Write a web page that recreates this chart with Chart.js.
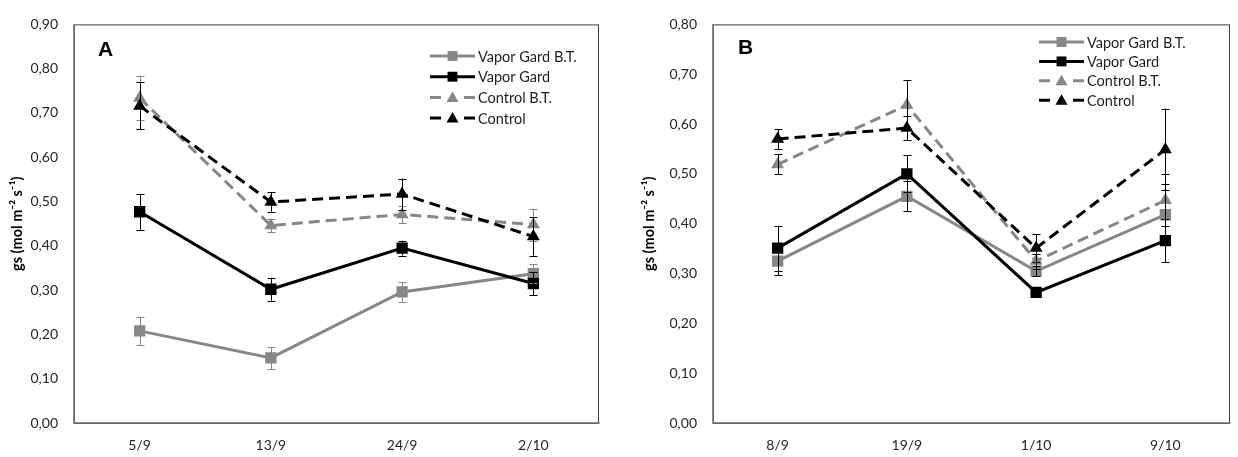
<!DOCTYPE html>
<html lang="pt">
<head>
<meta charset="UTF-8">
<title>gs</title>
<script src="https://cdn.jsdelivr.net/npm/chart.js@4.4.1/dist/chart.umd.min.js"></script>
<style>
  body { margin: 0; background: #fff; width: 1238px; height: 457px; overflow: hidden; position: relative; }
  canvas { position: absolute; top: 0; }
</style>
</head>
<body>
<canvas id="chartA" width="615" height="457" style="left:0"></canvas>
<canvas id="chartB" width="618" height="457" style="left:620px"></canvas>
<script>
// series names (same in both panels)
const seriesNames = ['Vapor Gard B.T.', 'Vapor Gard', 'Control B.T.', 'Control'];

// panel A
const datesA = ['5/9', '13/9', '24/9', '2/10'];
const vgbtA = [0.208, 0.147, 0.296, 0.337];
const vgbtErrA = [0.032, 0.025, 0.022, 0.022];
const vgA = [0.477, 0.302, 0.395, 0.315];
const vgErrA = [0.041, 0.026, 0.017, 0.026];
const cbtA = [0.734, 0.446, 0.471, 0.448];
const cbtErrA = [0.050, 0.015, 0.020, 0.036];
const ctrlA = [0.716, 0.499, 0.517, 0.421];
const ctrlErrA = [0.053, 0.022, 0.035, 0.043];

// panel B
const datesB = ['8/9', '19/9', '1/10', '9/10'];
const vgbtB = [0.325, 0.455, 0.305, 0.418];
const vgbtErrB = [0.028, 0.030, 0.010, 0.061];
const vgB = [0.351, 0.500, 0.262, 0.366];
const vgErrB = [0.045, 0.037, 0.005, 0.043];
const cbtB = [0.519, 0.638, 0.325, 0.447];
const cbtErrB = [0.020, 0.050, 0.015, 0.052];
const ctrlB = [0.570, 0.592, 0.351, 0.549];
const ctrlErrB = [0.020, 0.025, 0.028, 0.082];

const GRAY = '#878787';
const yTitle = 'gs (mol m\u207B\u00B2 s\u207B\u00B9)';
const tickFont = { family: 'Lato', size: 14 };

function fmtTick(v) {
  return v.toFixed(2).replace('.', ',');
}

function marker(ctx, style, x, y, r) {
  ctx.beginPath();
  if (style === 'rect') {
    const s = r * Math.SQRT1_2;
    ctx.rect(x - s, y - s, 2 * s, 2 * s);
  } else {
    ctx.moveTo(x, y - r);
    ctx.lineTo(x + r * 0.866, y + r * 0.5);
    ctx.lineTo(x - r * 0.866, y + r * 0.5);
    ctx.closePath();
  }
  ctx.fill();
}

const panelDecor = {
  id: 'panelDecor',
  beforeDraw(chart) {
    const { ctx, chartArea: a } = chart;
    ctx.save();
    ctx.strokeStyle = '#404040';
    ctx.lineWidth = 1;
    ctx.strokeRect(a.left + 0.5, a.top + 0.5, a.right - a.left - 1, a.bottom - a.top);
    ctx.restore();
  },
  afterDatasetsDraw(chart, args, opts) {
    const ctx = chart.ctx;
    const ys = chart.scales.y;
    ctx.save();
    ctx.lineWidth = 1;
    chart.data.datasets.forEach((ds, i) => {
      const meta = chart.getDatasetMeta(i);
      ctx.strokeStyle = opts.errColors[i];
      meta.data.forEach((pt, j) => {
        const e = ds.errors[j];
        const yt = ys.getPixelForValue(ds.data[j] + e);
        const yb = ys.getPixelForValue(ds.data[j] - e);
        const x = Math.round(pt.x) + 0.5;
        ctx.beginPath();
        ctx.moveTo(x, yt); ctx.lineTo(x, yb);
        ctx.moveTo(x - 4, Math.round(yt) + 0.5); ctx.lineTo(x + 4, Math.round(yt) + 0.5);
        ctx.moveTo(x - 4, Math.round(yb) + 0.5); ctx.lineTo(x + 4, Math.round(yb) + 0.5);
        ctx.stroke();
      });
    });
    ctx.restore();
  },
  afterDraw(chart, args, opts) {
    const ctx = chart.ctx;
    ctx.save();
    // panel letter
    ctx.fillStyle = '#000';
    ctx.font = 'bold 21px "Liberation Sans"';
    ctx.textBaseline = 'middle';
    ctx.fillText(opts.letter, opts.letterX, opts.letterY);
    // legend: line - marker - line
    const lg = opts.legend;
    ctx.font = '14.5px Lato';
    chart.data.datasets.forEach((ds, i) => {
      const y = lg.y + i * lg.gap;
      const dashed = ds.borderDash && ds.borderDash.length;
      ctx.strokeStyle = ds.borderColor;
      ctx.lineWidth = ds.borderWidth;
      ctx.beginPath();
      if (dashed) {
        ctx.moveTo(lg.x, y); ctx.lineTo(lg.x + 11, y);
        ctx.moveTo(lg.x + lg.len - 11, y); ctx.lineTo(lg.x + lg.len, y);
      } else {
        ctx.moveTo(lg.x, y); ctx.lineTo(lg.x + lg.len, y);
      }
      ctx.stroke();
      ctx.fillStyle = ds.pointBackgroundColor;
      marker(ctx, ds.pointStyle, lg.x + lg.len / 2, y + (ds.pointStyle === 'rect' ? 0 : 1), 7);
      ctx.fillStyle = '#1f1f1f';
      ctx.fillText(ds.label, lg.x + lg.len + 3, y + 1);
    });
    ctx.restore();
  }
};

function makeDatasets(values, errs) {
  const colors = [GRAY, '#000', GRAY, '#000'];
  const dashes = [[], [], [11, 6], [11, 6]];
  const styles = ['rect', 'rect', 'triangle', 'triangle'];
  return seriesNames.map((name, i) => ({
    label: name,
    data: values[i],
    errors: errs[i],
    borderColor: colors[i],
    borderWidth: 3,
    borderDash: dashes[i],
    pointStyle: styles[i],
    pointRadius: styles[i] === 'rect' ? 8 : 7.5,
    pointBackgroundColor: colors[i],
    pointBorderWidth: 0,
    tension: 0,
    order: 4 - i
  }));
}

function makeChart(id, dates, values, errs, cfg) {
  return new Chart(document.getElementById(id), {
    type: 'line',
    data: { labels: dates, datasets: makeDatasets(values, errs) },
    plugins: [panelDecor],
    options: {
      responsive: false,
      animation: false,
      events: [],
      layout: { padding: { left: 0, top: cfg.top, right: cfg.right, bottom: 0 } },
      plugins: {
        legend: { display: false },
        tooltip: { enabled: false },
        panelDecor: {
          letter: cfg.letter, letterX: cfg.letterX, letterY: cfg.letterY,
          legend: cfg.legend, errColors: cfg.errColors
        }
      },
      scales: {
        x: {
          type: 'category',
          offset: true,
          grid: { display: false, drawTicks: false },
          border: { display: true, color: '#8c8c8c', width: 1.5 },
          ticks: { font: tickFont, color: '#262626', padding: 14, maxRotation: 0 },
          afterFit(s) { s.height = 34; }
        },
        y: {
          min: 0,
          max: cfg.ymax,
          grid: { display: false, drawTicks: false },
          border: { display: true, color: '#8c8c8c', width: 1.5 },
          ticks: { stepSize: 0.1, font: tickFont, color: '#262626', padding: 16, callback: fmtTick },
          title: {
            display: true,
            text: yTitle,
            font: { family: 'Lato', size: 14.5, weight: 'bold' },
            color: '#000',
            padding: { top: cfg.titlePad, bottom: 0 }
          },
          afterFit(s) { s.width = cfg.axisW; }
        }
      }
    }
  });
}

makeChart('chartA', datesA, [vgbtA, vgA, cbtA, ctrlA], [vgbtErrA, vgErrA, cbtErrA, ctrlErrA], {
  top: 16, right: 16, axisW: 74, ymax: 0.9, titlePad: 9,
  letter: 'A', letterX: 98, letterY: 50,
  legend: { x: 430, y: 56, gap: 20.7, len: 45 },
  errColors: [GRAY, '#000', GRAY, '#000']
});

makeChart('chartB', datesB, [vgbtB, vgB, cbtB, ctrlB], [vgbtErrB, vgErrB, cbtErrB, ctrlErrB], {
  top: 18, right: 1, axisW: 93, ymax: 0.8, titlePad: 21,
  letter: 'B', letterX: 118, letterY: 48,
  legend: { x: 419, y: 42, gap: 19.4, len: 45 },
  errColors: ['#000', '#000', '#000', '#000']
});
</script>
</body>
</html>
